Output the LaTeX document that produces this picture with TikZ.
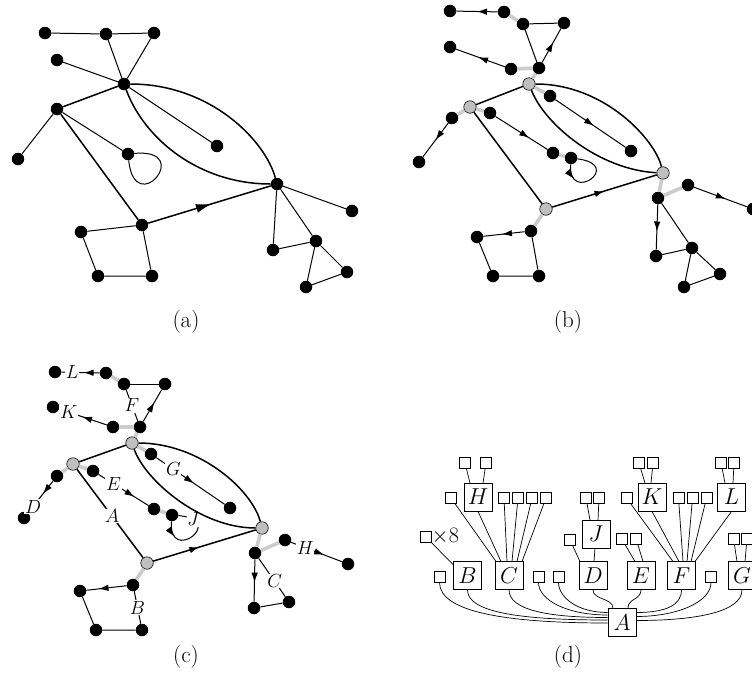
\RequirePackage{fix-cm}
\documentclass[tikz,border=0pt]{standalone}
\usetikzlibrary{arrows.meta,decorations.markings}
\begin{document}
\begin{tikzpicture}[x=1pt,y=-1pt,
  dot/.style={circle,fill=black,inner sep=0pt,minimum size=12.5pt},
  gdot/.style={circle,fill=black!25,draw=black,line width=0.6pt,inner sep=0pt,minimum size=12.5pt},
  ed/.style={line width=1pt},
  hed/.style={line width=1.5pt},
  ged/.style={line width=3.6pt,draw=black!20},
  marr/.style={postaction={decorate},decoration={markings,mark=at position #1 with {\arrow{Latex[length=10pt,width=6.5pt]}}}},
  marr/.default=0.55,
  bigarr/.style={postaction={decorate},decoration={markings,mark=at position #1 with {\arrow{Latex[length=16pt,width=9pt]}}}},
  lab/.style={fill=white,inner sep=0.6pt,font=\fontsize{19}{21}\selectfont},
  bigbox/.style={draw,line width=0.8pt,minimum size=28pt,inner sep=0pt,fill=white,font=\fontsize{23}{26}\selectfont},
  smbox/.style={draw,line width=0.8pt,minimum size=11pt,inner sep=0pt,fill=white},
  dl/.style={line width=0.7pt},
  capt/.style={font=\fontsize{23}{26}\selectfont}
]
\useasboundingbox (0,0) rectangle (752,691);

% ================= (a) =================
\begin{scope}[every node/.append style={minimum size=13.5pt}]
\node[dot] (a1) at (45,33) {};
\node[dot] (a2) at (106,34) {};
\node[dot] (a3) at (154,33) {};
\node[dot] (a4) at (57,60) {};
\node[dot] (ah1) at (124,84) {};
\node[dot] (ah2) at (57,109) {};
\node[dot] (al) at (18,159) {};
\node[dot] (alp) at (128,154) {};
\node[dot] (am) at (217,146) {};
\node[dot] (ah3) at (277,184) {};
\node[dot] (ah4) at (142,225) {};
\node[dot] (as1) at (81,232) {};
\node[dot] (as2) at (98,276) {};
\node[dot] (as3) at (152,276) {};
\node[dot] (ar) at (352,211) {};
\node[dot] (ar1) at (273,250) {};
\node[dot] (ar2) at (316,241) {};
\node[dot] (ar3) at (347,272) {};
\node[dot] (ar4) at (306,287) {};
\end{scope}
\draw[ed] (a1) -- (a2) -- (a3) -- (ah1) -- (a2);
\draw[ed] (a4) -- (ah1) -- (am);
\draw[ed] (ah2) -- (al);
\draw[ed] (ah2) -- (alp);
\draw[ed] (alp) .. controls (195,148) and (135,220) .. (alp);
\draw[ed] (ah4) -- (as1) -- (as2) -- (as3) -- (ah4);
\draw[ed] (ah3) -- (ar);
\draw[ed] (ah3) -- (ar1) -- (ar2) -- (ah3);
\draw[ed] (ar2) -- (ar3) -- (ar4) -- (ar2);
\draw[hed] (ah1) -- (ah2) -- (ah4);
\draw[hed,bigarr=0.52] (ah4) -- (ah3);
\draw[hed] (ah1) .. controls (210,84) and (265,140) .. (ah3);
\draw[hed] (ah1) .. controls (145,140) and (200,184) .. (ah3);
\node[capt] (capa) at (186,322) {(a)};

% ================= (b) =================
\node[dot] (bL1) at (450,11) {};
\node[dot] (bL2) at (504,12) {};
\node[dot] (bF1) at (523,24) {};
\node[dot] (bF2) at (564,23) {};
\node[dot] (bK1) at (450,47) {};
\node[dot] (bK2) at (511,69) {};
\node[dot] (bF3) at (539,68) {};
\node[gdot] (bh1) at (529,84) {};
\node[dot] (bG1) at (550,96) {};
\node[gdot] (bh2) at (470,107) {};
\node[dot] (bE1) at (490,113) {};
\node[dot] (bD1) at (452,118) {};
\node[dot] (bD2) at (419,162) {};
\node[dot] (bG2) at (631,151) {};
\node[dot] (bE2) at (553,153) {};
\node[dot] (bJ1) at (571,158) {};
\node[gdot] (bh3) at (663,173) {};
\node[dot] (bH1) at (688,185) {};
\node[dot] (bH2) at (753,209) {};
\node[dot] (bC1) at (658,198) {};
\node[gdot] (bh4) at (546,209) {};
\node[dot] (bB1) at (531,231) {};
\node[dot] (bB2) at (477,237) {};
\node[dot] (bB3) at (493,276) {};
\node[dot] (bB4) at (539,276) {};
\node[dot] (bC2) at (656,256) {};
\node[dot] (bC3) at (692,248) {};
\node[dot] (bC4) at (720,274) {};
\node[dot] (bC5) at (684,287) {};
\draw[ged] (bL2) -- (bF1);
\draw[ged] (bK2) -- (bF3) -- (bh1) -- (bG1);
\draw[ged] (bD1) -- (bh2) -- (bE1);
\draw[ged] (bE2) -- (bJ1);
\draw[ged] (bh4) -- (bB1);
\draw[ged] (bh3) -- (bC1) -- (bH1);
\draw[ed,marr=0.5] (bL2) -- (bL1);
\draw[ed] (bF1) -- (bF2);
\draw[ed] (bF1) -- (bF3);
\draw[ed,marr=0.6] (bF3) -- (bF2);
\draw[ed,marr=0.55] (bK2) -- (bK1);
\draw[ed,marr=0.55] (bG1) -- (bG2);
\draw[ed,marr=0.5] (bD1) -- (bD2);
\draw[ed,marr=0.65] (bE1) -- (bE2);
\draw[ed,marr=0.22] (bJ1) .. controls (568,205) and (625,165) .. (bJ1);
\draw[ed,marr=0.55] (bB1) -- (bB2);
\draw[ed] (bB2) -- (bB3) -- (bB4) -- (bB1);
\draw[ed,marr=0.6] (bH1) -- (bH2);
\draw[ed,marr=0.6] (bC1) -- (bC2);
\draw[ed] (bC1) -- (bC3) -- (bC2);
\draw[ed] (bC3) -- (bC4) -- (bC5) -- (bC3);
\draw[hed] (bh1) -- (bh2) -- (bh4);
\draw[hed,marr=0.5] (bh4) -- (bh3);
\draw[hed] (bh1) .. controls (605,84) and (655,140) .. (bh3);
\draw[hed] (bh1) .. controls (545,125) and (600,170) .. (bh3);
\node[capt] (capb) at (568,322) {(b)};

% ================= (c) =================
\node[dot] (cL1) at (55,372) {};
\node[dot] (cL2) at (106,373) {};
\node[dot] (cF1) at (124,384) {};
\node[dot] (cF2) at (165,384) {};
\node[dot] (cK1) at (53,407) {};
\node[dot] (cK2) at (113,427) {};
\node[dot] (cF3) at (140,427) {};
\node[gdot] (ch1) at (132,443) {};
\node[dot] (cG1) at (151,454) {};
\node[gdot] (ch2) at (73,464) {};
\node[dot] (cE1) at (93,471) {};
\node[dot] (cD1) at (57,476) {};
\node[dot] (cD2) at (24,518) {};
\node[dot] (cE2) at (154,509) {};
\node[dot] (cJ1) at (172,515) {};
\node[dot] (cG2) at (230,508) {};
\node[gdot] (ch3) at (262,528) {};
\node[dot] (cH1) at (285,540) {};
\node[dot] (cH2) at (348,564) {};
\node[dot] (cC1) at (255,553) {};
\node[gdot] (ch4) at (147,563) {};
\node[dot] (cB1) at (133,585) {};
\node[dot] (cB2) at (80,591) {};
\node[dot] (cB3) at (96,630) {};
\node[dot] (cB4) at (142,630) {};
\node[dot] (cC2) at (254,608) {};
\node[dot] (cC3) at (289,602) {};
\draw[ged] (cL2) -- (cF1);
\draw[ged] (cK2) -- (cF3) -- (ch1) -- (cG1);
\draw[ged] (cD1) -- (ch2) -- (cE1);
\draw[ged] (cE2) -- (cJ1);
\draw[ged] (ch4) -- (cB1);
\draw[ged] (ch3) -- (cC1) -- (cH1);
\draw[ed,marr=0.42] (cL2) -- node[lab,pos=0.72]{$L$} (cL1);
\draw[ed] (cF1) -- (cF2);
\draw[ed] (cF1) -- node[lab]{$F$} (cF3);
\draw[ed,marr=0.6] (cF3) -- (cF2);
\draw[ed,marr=0.52] (cK2) -- node[lab,pos=0.8]{$K$} (cK1);
\draw[ed,marr=0.55] (cG1) -- node[lab,pos=0.25]{$G$} (cG2);
\draw[ed,marr=0.4] (cD1) -- node[lab,pos=0.8]{$D$} (cD2);
\draw[ed,marr=0.72] (cE1) -- node[lab,pos=0.3]{$E$} (cE2);
\draw[ed,marr=0.22] (cJ1) .. controls (168,565) and (228,520) .. node[lab,pos=0.86]{$J$} (cJ1);
\draw[ed,marr=0.7] (cB1) -- (cB2);
\draw[ed] (cB2) -- (cB3) -- (cB4) -- node[lab]{$B$} (cB1);
\draw[ed,marr=0.65] (cH1) -- node[lab,pos=0.28]{$H$} (cH2);
\draw[ed,marr=0.55] (cC1) -- (cC2);
\draw[ed] (cC1) -- node[lab,pos=0.6]{$C$} (cC3);
\draw[ed] (cC3) -- (cC2);
\draw[hed] (ch1) -- (ch2);
\draw[hed] (ch2) -- node[lab,pos=0.53]{$A$} (ch4);
\draw[hed,marr=0.45] (ch4) -- (ch3);
\draw[hed] (ch1) .. controls (200,443) and (252,490) .. (ch3);
\draw[hed] (ch1) .. controls (145,480) and (200,528) .. (ch3);
\node[capt] (capc) at (186,657) {(c)};

% ================= (d) =================
\node[bigbox] (A) at (622,622.5) {$A$};
\node[bigbox] (B) at (467.5,575.5) {$B$};
\node[bigbox] (C) at (509,575.5) {$C$};
\node[bigbox] (D) at (593,575.5) {$D$};
\node[bigbox] (E) at (641,575.5) {$E$};
\node[bigbox] (F) at (681.5,575.5) {$F$};
\node[bigbox] (G) at (742,575.5) {$G$};
\node[bigbox] (J) at (596,534) {$J$};
\node[bigbox] (H) at (478,497) {$H$};
\node[bigbox] (K) at (652,497) {$K$};
\node[bigbox] (L) at (731.5,497) {$L$};
\node[smbox] (hs1) at (465,463) {};
\node[smbox] (hs2) at (486,463) {};
\node[smbox] (hsl) at (451,498) {};
\node[smbox] (hr1) at (504,498) {};
\node[smbox] (hr2) at (518,498) {};
\node[smbox] (hr3) at (532,498) {};
\node[smbox] (hr4) at (546,498) {};
\node[smbox] (ks1) at (639,463) {};
\node[smbox] (ks2) at (653,463) {};
\node[smbox] (ksl) at (626.5,498) {};
\node[smbox] (kr1) at (678.5,498) {};
\node[smbox] (kr2) at (692.5,498) {};
\node[smbox] (kr3) at (706.5,498) {};
\node[smbox] (ls1) at (721,463) {};
\node[smbox] (ls2) at (734,463) {};
\node[smbox] (js1) at (586,498) {};
\node[smbox] (js2) at (599,498) {};
\node[smbox] (jsl) at (570,540) {};
\node[smbox] (es1) at (621.5,538.5) {};
\node[smbox] (es2) at (636,538.5) {};
\node[smbox] (gs1) at (733.5,538.5) {};
\node[smbox] (gs2) at (747,538.5) {};
\node[smbox] (xb) at (426,537) {};
\node[anchor=west,inner sep=0pt,font=\fontsize{22}{25}\selectfont] (xt) at (431.5,536) {$\times 8$};
\node[smbox] (bsl) at (439.5,576.5) {};
\node[smbox] (m1) at (538.5,576.5) {};
\node[smbox] (m2) at (558.5,576.5) {};
\node[smbox] (fr) at (711,576.5) {};
% upward links
\draw[dl] (hs1) -- (470,483);
\draw[dl] (hs2) -- (483,483);
\draw[dl] (ks1) -- (645,483);
\draw[dl] (ks2) -- (651,483);
\draw[dl] (ls1) -- (725,483);
\draw[dl] (ls2) -- (733,483);
\draw[dl] (js1) -- (590,520);
\draw[dl] (js2) -- (598,520);
\draw[dl] (es1) -- (635,561.5);
\draw[dl] (es2) -- (643,561.5);
\draw[dl] (gs1) -- (737,561.5);
\draw[dl] (gs2) -- (745,561.5);
\draw[dl] (hsl) -- (496,561.5);
\draw[dl] (H.south) -- (501,561.5);
\draw[dl] (hr1) -- (507,561.5);
\draw[dl] (hr2) -- (512,561.5);
\draw[dl] (hr3) -- (517,561.5);
\draw[dl] (hr4) -- (522,561.5);
\draw[dl] (ksl) -- (673,561.5);
\draw[dl] (K.south) -- (679,561.5);
\draw[dl] (kr1) -- (683,561.5);
\draw[dl] (kr2) -- (687,561.5);
\draw[dl] (kr3) -- (691,561.5);
\draw[dl] (L.south) -- (695,561.5);
\draw[dl] (J) -- (D);
\draw[dl] (jsl) -- (580,561.5);
\draw[dl] (xb) -- (453.5,565);
% links to A
\draw[dl] (bsl.south) .. controls +(0,30) and +(-100,0) .. ([yshift=-0.5pt]A.west);
\draw[dl] (B.south) .. controls +(0,22) and +(-90,0) .. ([yshift=2.5pt]A.west);
\draw[dl] (C.south) .. controls +(0,20) and +(-60,0) .. ([yshift=5pt]A.west);
\draw[dl] (m1.south) .. controls +(0,18) and +(-40,0) .. ([yshift=7.5pt]A.west);
\draw[dl] (m2.south) .. controls +(0,15) and +(-30,0) .. ([yshift=10pt]A.west);
\draw[dl] (D.south) .. controls +(0,10) and +(0,-10) .. ([xshift=-9pt]A.north);
\draw[dl] (E.south) .. controls +(0,10) and +(0,-10) .. ([xshift=6pt]A.north);
\draw[dl] (F.south) .. controls +(0,15) and +(30,0) .. ([yshift=10pt]A.east);
\draw[dl] (fr.south) .. controls +(0,20) and +(40,0) .. ([yshift=6pt]A.east);
\draw[dl] (G.south) .. controls +(0,22) and +(60,0) .. ([yshift=2pt]A.east);
\node[capt] (capd) at (568,657) {(d)};
\end{tikzpicture}
\end{document}
